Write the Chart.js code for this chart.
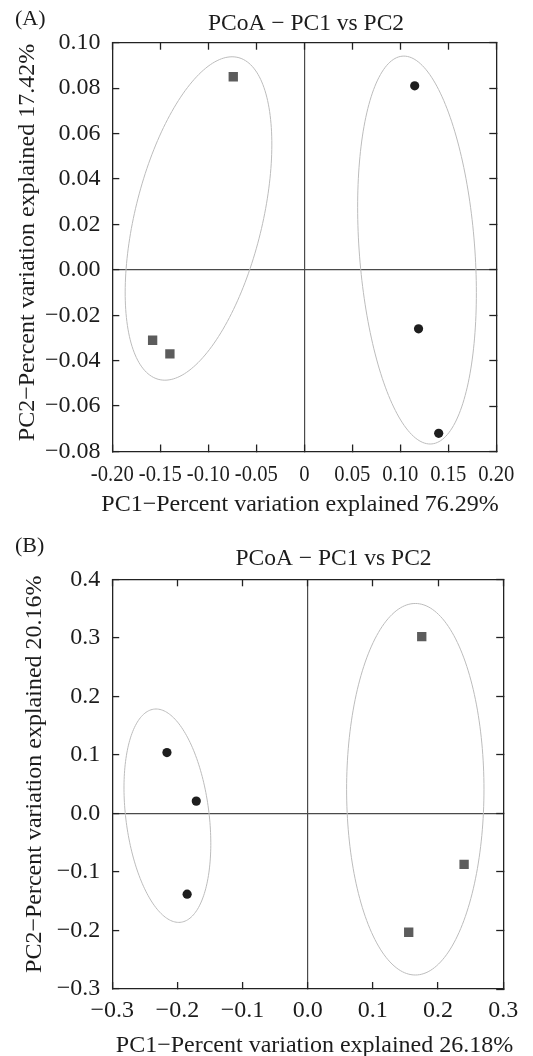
<!DOCTYPE html>
<html>
<head>
<meta charset="utf-8">
<script src="https://cdn.jsdelivr.net/npm/chart.js@4.4.1/dist/chart.umd.min.js"></script>
<style>
html, body { margin: 0; padding: 0; background: #ffffff; }
canvas { display: block; }
</style>
</head>
<body>
<canvas id="chartA" width="533" height="520"></canvas>
<canvas id="chartB" width="533" height="536"></canvas>
<script>
// ---------------- data ----------------
const panelLabels = ['(A)', '(B)'];
const chartTitles = ['PCoA − PC1 vs PC2', 'PCoA − PC1 vs PC2'];
const xTitles = ['PC1−Percent variation explained 76.29%', 'PC1−Percent variation explained 26.18%'];
const yTitles = ['PC2−Percent variation explained 17.42%', 'PC2−Percent variation explained 20.16%'];

// Panel A
const aSquareX = [-0.074, -0.158, -0.140];
const aSquareY = [0.085, -0.031, -0.037];
const aCircleX = [0.115, 0.119, 0.140];
const aCircleY = [0.081, -0.026, -0.072];
const aXTicks = [-0.20, -0.15, -0.10, -0.05, 0, 0.05, 0.10, 0.15, 0.20];
const aXLabels = ['-0.20', '-0.15', '-0.10', '-0.05', '0', '0.05', '0.10', '0.15', '0.20'];
const aYTicks = [-0.08, -0.06, -0.04, -0.02, 0, 0.02, 0.04, 0.06, 0.08, 0.10];
const aYLabels = ['−0.08', '−0.06', '−0.04', '−0.02', '0.00', '0.02', '0.04', '0.06', '0.08', '0.10'];
// group ellipses: [centerX, centerY, axis1X, axis1Y, axis2X, axis2Y] in data units
const aEllipseSquares = [-0.1102, 0.0226, 0.0350, 0.0712, 0.0679, 0];
const aEllipseCircles = [0.1174, 0.0087, -0.0137, 0.0854, 0.0603, 0];

// Panel B
const bCircleX = [-0.216, -0.171, -0.185];
const bCircleY = [0.104, 0.021, -0.138];
const bSquareX = [0.175, 0.240, 0.155];
const bSquareY = [0.302, -0.087, -0.203];
const bXTicks = [-0.3, -0.2, -0.1, 0, 0.1, 0.2, 0.3];
const bXLabels = ['−0.3', '−0.2', '−0.1', '0.0', '0.1', '0.2', '0.3'];
const bYTicks = [-0.3, -0.2, -0.1, 0, 0.1, 0.2, 0.3, 0.4];
const bYLabels = ['−0.3', '−0.2', '−0.1', '0.0', '0.1', '0.2', '0.3', '0.4'];
const bEllipseCircles = [-0.2153, -0.0039, -0.0174, 0.1823, 0.0643, 0];
const bEllipseSquares = [0.1651, 0.0413, 0, 0.3174, 0.1054, 0];

// ---------------- drawing ----------------
const SERIF = "'Liberation Serif', 'Times New Roman', Times, serif";
const INK = '#1c1c1c';

const ellipsePlugin = {
  id: 'ellipses',
  beforeDatasetsDraw(chart, args, opts) {
    const ctx = chart.ctx;
    const xs = chart.scales.x, ys = chart.scales.y;
    ctx.save();
    ctx.strokeStyle = '#bcbcbc';
    ctx.lineWidth = 1;
    for (const e of opts.list) {
      ctx.beginPath();
      const n = 200;
      for (let i = 0; i <= n; i++) {
        const t = i / n * Math.PI * 2;
        const dx = e[0] + e[2] * Math.cos(t) + e[4] * Math.sin(t);
        const dy = e[1] + e[3] * Math.cos(t) + e[5] * Math.sin(t);
        const px = xs.getPixelForValue(dx), py = ys.getPixelForValue(dy);
        if (i === 0) ctx.moveTo(px, py); else ctx.lineTo(px, py);
      }
      ctx.closePath();
      ctx.stroke();
    }
    ctx.restore();
  }
};

const textPlugin = {
  id: 'texts',
  afterDraw(chart, args, o) {
    const ctx = chart.ctx;
    ctx.save();
    ctx.fillStyle = INK;
    ctx.textBaseline = 'alphabetic';
    ctx.font = '22px ' + SERIF;
    ctx.textAlign = 'left';
    ctx.fillText(o.panel, o.panelX, o.panelY);
    ctx.font = '23.5px ' + SERIF;
    ctx.textAlign = 'center';
    ctx.fillText(o.title, o.titleX, o.titleY);
    ctx.font = '24px ' + SERIF;
    ctx.fillText(o.xTitle, o.xTitleX, o.xTitleY);
    ctx.translate(o.yTitleX, o.yTitleY);
    ctx.rotate(-Math.PI / 2);
    ctx.fillText(o.yTitle, 0, 0);
    ctx.restore();
  }
};

function fixedTicks(vals) {
  return function (scale) { scale.ticks = vals.map(v => ({ value: v })); };
}

function buildChart(canvasId, p) {
  const H = p.height;
  const frame = { display: true, color: '#222222', width: 1.3 };
  const zeroGrid = ctx => (ctx.tick && Math.abs(ctx.tick.value) < 1e-9) ? '#4a4a4a' : 'rgba(0,0,0,0)';
  const xBase = { type: 'linear', min: p.xTicks[0], max: p.xTicks[p.xTicks.length - 1], afterBuildTicks: fixedTicks(p.xTicks) };
  const yBase = { type: 'linear', min: p.yTicks[0], max: p.yTicks[p.yTicks.length - 1], afterBuildTicks: fixedTicks(p.yTicks) };

  return new Chart(document.getElementById(canvasId), {
    type: 'scatter',
    data: {
      datasets: [
        {
          data: p.sqX.map((v, i) => ({ x: v, y: p.sqY[i] })),
          pointStyle: 'rect', pointRadius: 6.6, pointHoverRadius: 6.6,
          backgroundColor: '#5c5c5c', borderWidth: 0
        },
        {
          data: p.ciX.map((v, i) => ({ x: v, y: p.ciY[i] })),
          pointStyle: 'circle', pointRadius: 4.6, pointHoverRadius: 4.6,
          backgroundColor: '#1e1e1e', borderWidth: 0
        }
      ]
    },
    options: {
      responsive: false,
      animation: false,
      events: [],
      layout: { padding: { left: 0, top: p.top, right: 533 - p.right, bottom: 0 } },
      plugins: {
        legend: { display: false },
        tooltip: { enabled: false },
        ellipses: { list: p.ellipses },
        texts: p.texts
      },
      scales: {
        x: Object.assign({}, xBase, {
          position: 'bottom',
          afterFit: s => {
            s.height = H - p.bottom;
            if (p.xCondense && !s._condensePatched) {
              const orig = s.drawLabels;
              s.drawLabels = function (ca) {
                const c = this.ctx;
                const f = c.fillText;
                c.fillText = function (t, x, y) {
                  this.save();
                  this.translate(x, y);
                  this.scale(p.xCondense, 1);
                  f.call(this, t, 0, 0);
                  this.restore();
                };
                try { orig.call(this, ca); } finally { delete c.fillText; }
              };
              s._condensePatched = true;
            }
          },
          grid: { color: zeroGrid, lineWidth: 1.2, tickLength: -7, tickColor: '#222222', tickWidth: 1.3 },
          border: frame,
          ticks: {
            autoSkip: false, maxRotation: 0, minRotation: 0, padding: p.xPad, color: INK,
            font: { family: SERIF, size: p.xFont },
            callback: (v, i) => p.xLabels[i]
          }
        }),
        x2: Object.assign({}, xBase, {
          position: 'top',
          afterFit: s => { s.height = 0; },
          grid: { drawOnChartArea: false, tickLength: -7, tickColor: '#222222', tickWidth: 1.3 },
          border: frame,
          ticks: { display: false }
        }),
        y: Object.assign({}, yBase, {
          position: 'left',
          afterFit: s => { s.width = p.left; },
          grid: { color: zeroGrid, lineWidth: 1.2, tickLength: -7, tickColor: '#222222', tickWidth: 1.3 },
          border: frame,
          ticks: {
            autoSkip: false, padding: p.yPad, color: INK,
            font: { family: SERIF, size: p.yFont },
            callback: (v, i) => p.yLabels[i]
          }
        }),
        y2: Object.assign({}, yBase, {
          position: 'right',
          afterFit: s => { s.width = 0; },
          grid: { drawOnChartArea: false, tickLength: -7, tickColor: '#222222', tickWidth: 1.3 },
          border: frame,
          ticks: { display: false }
        })
      }
    },
    plugins: [ellipsePlugin, textPlugin]
  });
}

buildChart('chartA', {
  height: 520, left: 112.3, right: 510.8, top: 42.7, bottom: 451.5,
  xPad: 15.7, yPad: 18.7, xFont: 24, yFont: 24, xCondense: 0.86,
  sqX: aSquareX, sqY: aSquareY, ciX: aCircleX, ciY: aCircleY,
  xTicks: aXTicks, xLabels: aXLabels, yTicks: aYTicks, yLabels: aYLabels,
  ellipses: [aEllipseSquares, aEllipseCircles],
  texts: {
    panel: panelLabels[0], panelX: 15, panelY: 25,
    title: chartTitles[0], titleX: 306, titleY: 30,
    xTitle: xTitles[0], xTitleX: 300, xTitleY: 510.7,
    yTitle: yTitles[0], yTitleX: 33.5, yTitleY: 242.5
  }
});

buildChart('chartB', {
  height: 536, left: 112.2, right: 508.8, top: 59.3, bottom: 469,
  xPad: 14.8, yPad: 18.9, xFont: 24, yFont: 24,
  sqX: bSquareX, sqY: bSquareY, ciX: bCircleX, ciY: bCircleY,
  xTicks: bXTicks, xLabels: bXLabels, yTicks: bYTicks, yLabels: bYLabels,
  ellipses: [bEllipseCircles, bEllipseSquares],
  texts: {
    panel: panelLabels[1], panelX: 15, panelY: 32,
    title: chartTitles[1], titleX: 333.5, titleY: 45,
    xTitle: xTitles[1], xTitleX: 314.5, xTitleY: 531.5,
    yTitle: yTitles[1], yTitleX: 40.5, yTitleY: 254.2
  }
});
</script>
</body>
</html>
